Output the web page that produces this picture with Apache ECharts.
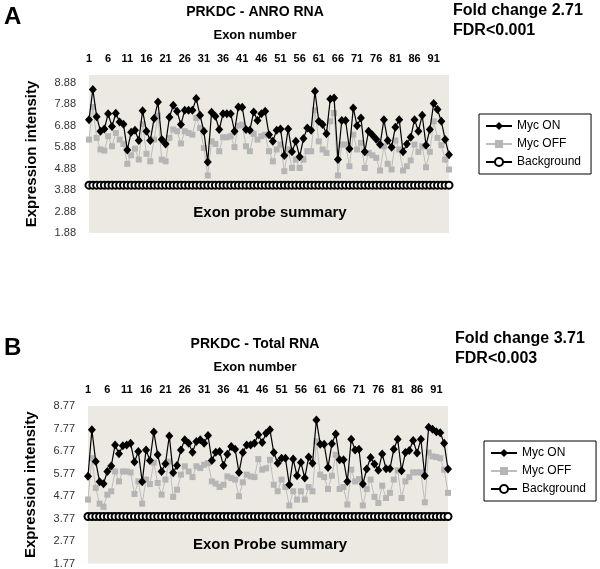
<!DOCTYPE html>
<html>
<head>
<meta charset="utf-8">
<script src="https://cdn.jsdelivr.net/npm/echarts@6/dist/echarts.min.js"></script>
<style>
  html, body { margin: 0; padding: 0; background: #fff; }
  #chart { width: 600px; height: 569px; }
</style>
</head>
<body>
<div id="chart"></div>
<script>
// panel A - ANRO RNA (95 exon probes)
var onA = [7.15, 8.57, 7.30, 6.62, 6.72, 7.43, 6.84, 7.46, 7.05, 6.95,
  5.75, 6.57, 6.67, 6.19, 7.58, 6.62, 6.19, 7.21, 7.98, 6.23,
  6.03, 7.27, 7.83, 7.55, 6.93, 7.60, 7.60, 7.60, 8.14, 7.36,
  6.62, 5.19, 7.50, 7.32, 6.70, 7.44, 7.44, 7.44, 6.62, 7.75,
  7.74, 6.70, 6.67, 7.52, 7.12, 7.44, 7.55, 6.46, 6.15, 6.67,
  6.73, 5.49, 6.73, 5.66, 6.15, 5.43, 6.28, 6.77, 6.67, 8.48,
  7.08, 6.93, 6.50, 8.12, 8.17, 5.30, 7.12, 7.12, 5.80, 7.70,
  6.88, 7.24, 5.66, 6.62, 6.45, 6.25, 6.00, 7.16, 6.19, 5.88,
  6.81, 7.16, 5.66, 6.03, 6.34, 7.16, 6.62, 7.36, 5.97, 6.70,
  7.91, 7.63, 7.08, 6.23, 5.53];
var offA = [6.23, 7.75, 6.31, 5.77, 5.72, 6.39, 5.92, 6.54, 6.23, 6.03,
  5.10, 5.50, 5.81, 5.30, 6.95, 5.57, 5.22, 6.23, 7.35, 5.30,
  5.22, 6.31, 6.70, 6.62, 6.05, 6.62, 6.54, 6.46, 7.24, 6.77,
  5.84, 4.56, 6.15, 6.03, 5.69, 6.34, 6.34, 6.39, 5.88, 6.88,
  6.93, 5.92, 5.69, 6.50, 6.23, 6.39, 6.46, 5.69, 5.22, 5.77,
  6.00, 4.76, 5.77, 4.91, 5.30, 4.91, 5.30, 5.69, 5.69, 7.60,
  6.15, 5.77, 5.61, 7.08, 7.47, 4.56, 6.00, 6.00, 4.99, 6.46,
  5.77, 6.08, 4.91, 5.61, 5.50, 5.38, 4.79, 5.92, 5.10, 4.84,
  6.19, 5.77, 4.79, 4.99, 5.26, 6.00, 5.66, 5.92, 4.94, 5.66,
  7.08, 6.31, 5.97, 5.30, 4.84];
var bgLevelA = 4.11;

// panel B - Total RNA (94 exon probes)
var onB = [5.65, 7.71, 6.30, 5.40, 5.32, 5.86, 6.10, 7.04, 6.65, 7.00,
  7.04, 7.12, 6.28, 6.75, 5.40, 6.82, 6.35, 7.62, 6.60, 5.86,
  6.20, 7.44, 5.80, 6.13, 6.82, 7.27, 7.12, 6.72, 7.19, 7.27,
  7.12, 7.46, 6.35, 6.72, 6.75, 6.13, 6.63, 6.97, 6.85, 5.82,
  6.70, 7.04, 7.04, 7.12, 7.49, 7.15, 7.56, 7.71, 6.70, 6.23,
  6.45, 6.45, 5.27, 6.41, 5.67, 6.26, 5.57, 6.50, 6.23, 8.15,
  7.07, 7.07, 6.04, 7.09, 7.53, 6.38, 6.38, 5.42, 7.29, 6.82,
  6.85, 5.30, 5.97, 6.48, 6.19, 5.91, 6.64, 5.98, 5.98, 6.85,
  7.29, 5.89, 6.70, 6.79, 7.24, 6.68, 7.29, 5.67, 7.83, 7.74,
  7.63, 7.58, 7.12, 5.97];
var offB = [4.61, 6.45, 5.13, 4.43, 4.29, 4.83, 4.98, 5.86, 5.42, 5.86,
  5.86, 5.82, 4.86, 5.42, 4.43, 5.50, 5.30, 6.25, 5.35, 4.83,
  5.50, 6.30, 4.73, 5.05, 5.72, 6.09, 5.86, 5.61, 6.09, 6.01,
  6.16, 6.23, 5.42, 5.32, 5.17, 5.27, 5.64, 5.57, 5.50, 4.76,
  5.38, 5.72, 5.64, 5.61, 6.41, 5.94, 6.00, 6.38, 5.27, 4.98,
  5.50, 5.17, 4.35, 4.98, 4.61, 4.98, 4.61, 5.17, 4.98, 7.20,
  5.72, 5.61, 5.08, 5.67, 6.60, 5.08, 5.17, 4.39, 5.94, 5.42,
  5.52, 4.35, 5.08, 5.50, 4.73, 4.46, 5.23, 4.68, 4.91, 5.50,
  5.91, 4.68, 5.42, 5.61, 5.82, 5.82, 5.82, 4.49, 6.70, 6.53,
  6.50, 6.45, 5.94, 4.91];
var bgLevelB = 3.86;

// exon numbers (categories) and background level lines
var exonsA = onA.map(function (v, i) { return String(i + 1); });
var exonsB = onB.map(function (v, i) { return String(i + 1); });
var bgA = onA.map(function () { return bgLevelA; });
var bgB = onB.map(function () { return bgLevelB; });

var FONT = '"Liberation Sans", Arial, sans-serif';
var plotBg = '#ebe9e1';

function xAx(idx, cats) {
  return {
    type: 'category', gridIndex: idx, position: 'top', data: cats,
    boundaryGap: false,
    axisLine: { show: false }, axisTick: { show: false },
    axisLabel: { interval: 4, margin: 11, color: '#000', fontWeight: 'bold', fontSize: 11, fontFamily: FONT }
  };
}
function yAx(idx, min, max, top) {
  return {
    type: 'value', gridIndex: idx, min: min, max: max, interval: 1,
    splitLine: { show: false }, axisLine: { show: false }, axisTick: { show: false },
    name: 'Expression intensity', nameLocation: 'middle', nameGap: 50,
    nameTextStyle: { fontWeight: 'bold', fontSize: 15, color: '#000', fontFamily: FONT },
    axisLabel: {
      margin: 13, color: '#333', fontSize: 11, fontFamily: FONT,
      formatter: function (v) { return v > top + 0.01 ? '' : v.toFixed(2); }
    }
  };
}
function lines(idx, on, off, bg) {
  return [
    { name: 'Myc OFF', type: 'line', xAxisIndex: idx, yAxisIndex: idx, data: off,
      symbol: 'rect', symbolSize: 6, showAllSymbol: true, z: 2,
      lineStyle: { color: '#bdbdbd', width: 1 }, itemStyle: { color: '#b5b5b5' } },
    { name: 'Myc ON', type: 'line', xAxisIndex: idx, yAxisIndex: idx, data: on,
      symbol: 'diamond', symbolSize: [8, 9], showAllSymbol: true, z: 3,
      lineStyle: { color: '#000', width: 1.2 }, itemStyle: { color: '#000' } },
    { name: 'Background', type: 'line', xAxisIndex: idx, yAxisIndex: idx, data: bg,
      symbol: 'emptyCircle', symbolSize: 7, showAllSymbol: true, z: 3,
      lineStyle: { color: '#000', width: 1 }, itemStyle: { color: '#000', borderWidth: 1 } }
  ];
}
function legend(left, top) {
  return {
    orient: 'vertical', left: left, top: top, itemGap: 6, itemWidth: 26, itemHeight: 10,
    data: ['Myc ON', 'Myc OFF', 'Background'],
    borderColor: '#000', borderWidth: 1, padding: [6, 10, 6, 6],
    textStyle: { color: '#000', fontSize: 12, fontFamily: FONT }
  };
}
function txt(s, x, y, size, align) {
  return { type: 'text', x: x, y: y, silent: true,
    style: { text: s, font: 'bold ' + size + 'px ' + FONT, fill: '#000',
      align: align || 'center', verticalAlign: 'middle' } };
}

var chart = echarts.init(document.getElementById('chart'));
chart.setOption({
  animation: false,
  backgroundColor: '#fff',
  grid: [
    { left: 89, top: 75, width: 360, height: 158, show: true, backgroundColor: plotBg, borderWidth: 0 },
    { left: 88, top: 406, width: 360, height: 158, show: true, backgroundColor: plotBg, borderWidth: 0 }
  ],
  xAxis: [xAx(0, exonsA), xAx(1, exonsB)],
  yAxis: [yAx(0, 1.88, 9.24, 8.88), yAx(1, 1.77, 8.77, 8.77)],
  legend: [legend(479, 114), legend(484, 441)],
  series: lines(0, onA, offA, bgA).concat(lines(1, onB, offB, bgB)),
  graphic: [
    txt('A', 4, 17, 24, 'left'),
    txt('PRKDC - ANRO RNA', 255, 12, 14),
    txt('Exon number', 255, 35, 13),
    txt('Fold change 2.71', 453, 11, 16, 'left'),
    txt('FDR<0.001', 453, 31, 16, 'left'),
    txt('Exon probe summary', 270, 213, 15),
    txt('B', 4, 348, 24, 'left'),
    txt('PRKDC - Total RNA', 255, 344, 14),
    txt('Exon number', 255, 367, 13),
    txt('Fold change 3.71', 455, 339, 16, 'left'),
    txt('FDR<0.003', 455, 359, 16, 'left'),
    txt('Exon Probe summary', 270, 545, 15)
  ]
});
</script>
</body>
</html>
